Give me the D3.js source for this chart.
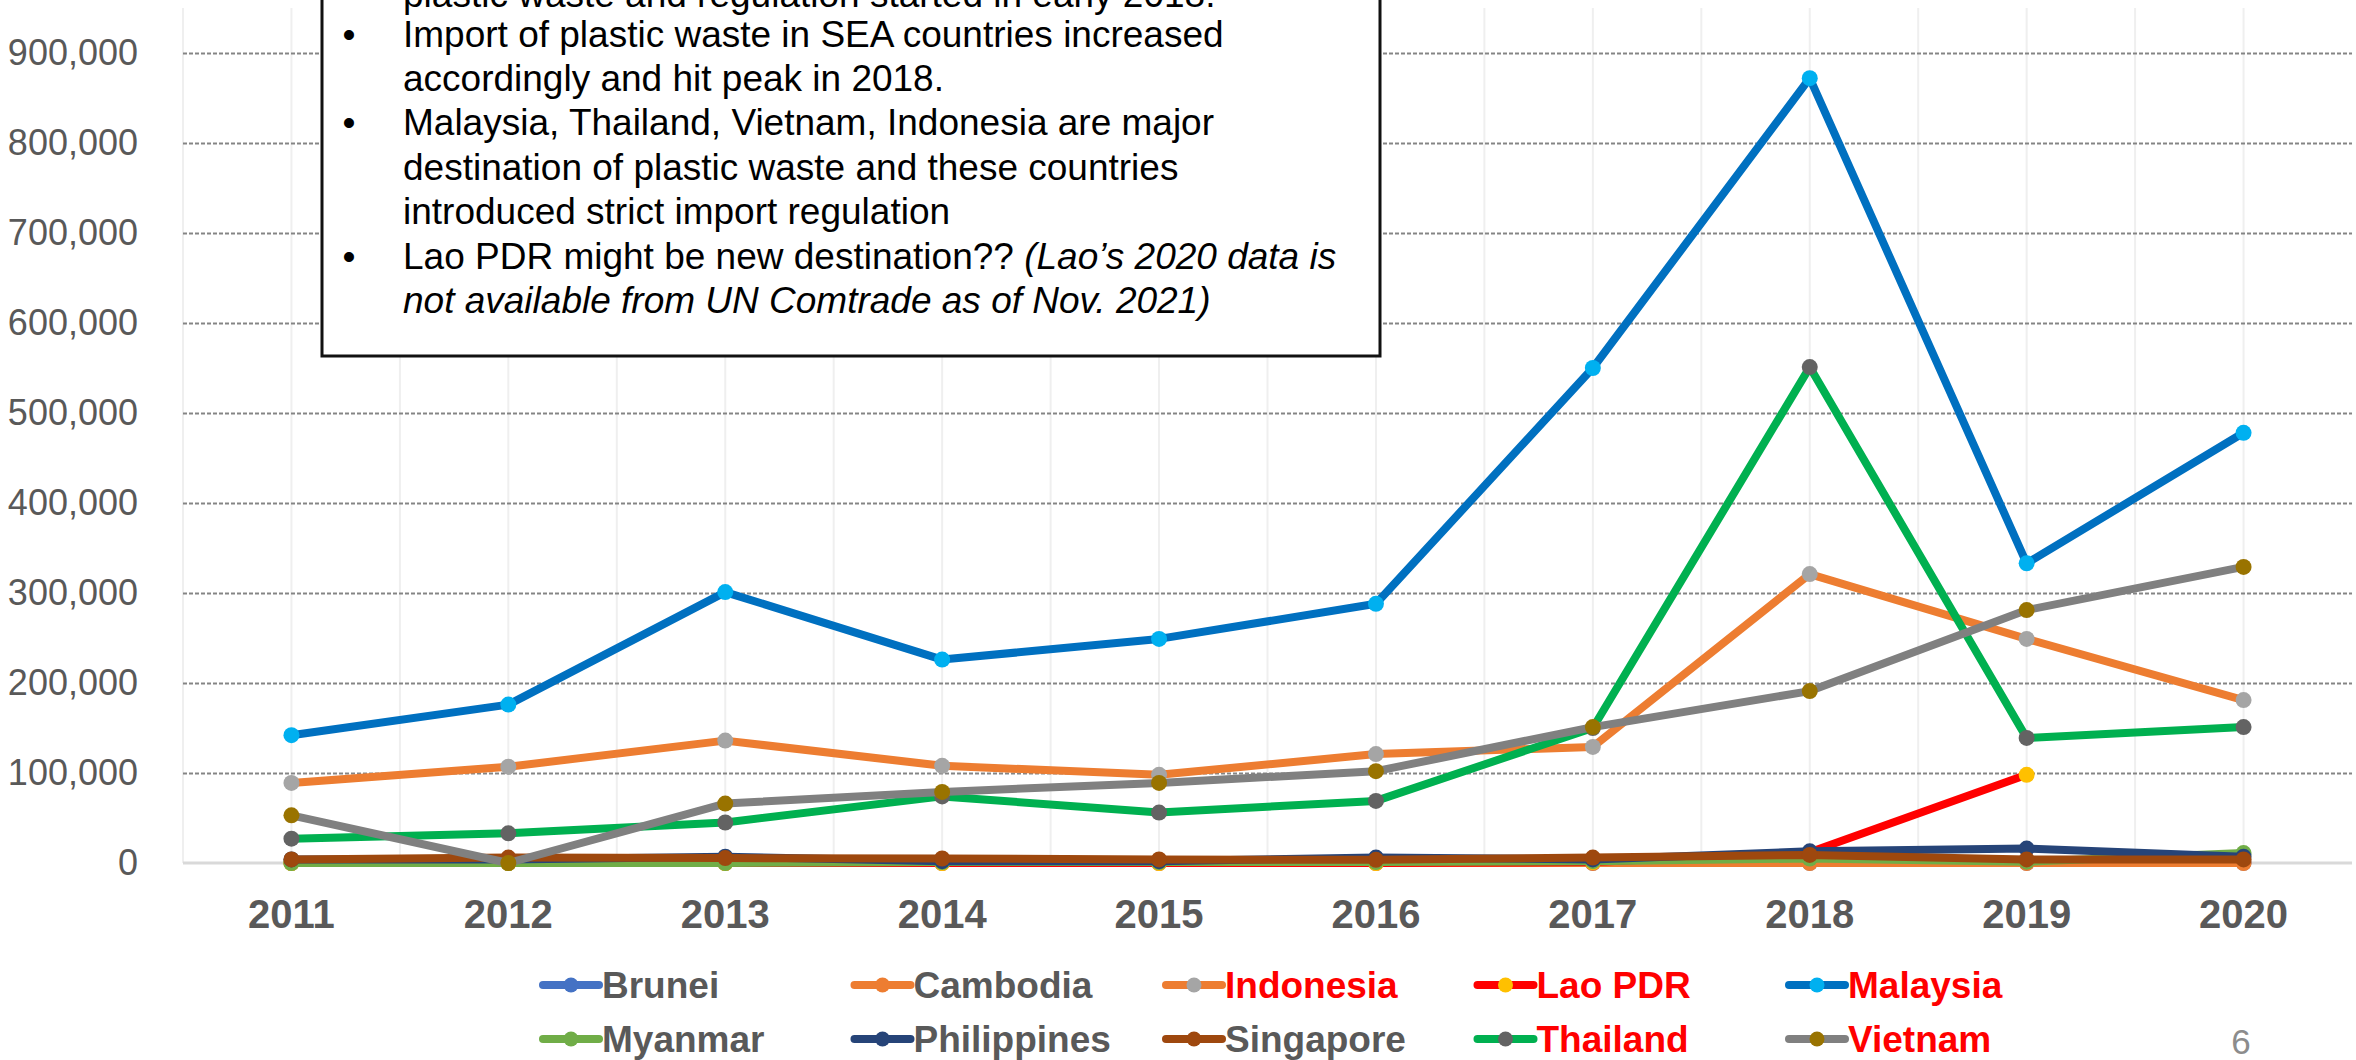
<!DOCTYPE html>
<html lang="en">
<head>
  <meta charset="UTF-8">
  <title>Import of plastic waste in SEA countries</title>
  <script src="https://d3js.org/d3.v7.min.js"></script>
  <style>
    body { margin: 0; background: #fff; overflow: hidden; }
    svg { display: block; font-family: "Liberation Sans", Arial, sans-serif; }
  </style>
</head>
<body>
<svg id="chart" width="2356" height="1060"></svg>

<script>
    // ——— data (tonnes) ———
    const years = ["2011","2012","2013","2014","2015","2016","2017","2018","2019","2020"];
    const yTicks = [0, 100000, 200000, 300000, 400000, 500000, 600000, 700000, 800000, 900000];

    const brunei      = [200, 200, 200, 200, 200, 200, 200, 300, 200, 200];
    const cambodia    = [0, 0, 0, 0, 0, 0, 0, 0, 0, 0];
    const indonesia   = [89000, 107000, 136000, 108000, 98000, 121000, 129000, 321000, 249000, 181000];
    const laoPDR      = [0, 0, 0, 0, 0, 0, 1000, 12000, 98000, null];
    const malaysia    = [142000, 176000, 301000, 226000, 249000, 288000, 550000, 872000, 333000, 478000];
    const myanmar     = [0, 0, 0, 1000, 1000, 1000, 2000, 5000, 1500, 11000];
    const philippines = [4000, 4000, 7000, 2000, 2000, 6000, 4000, 13000, 16000, 7000];
    const singapore   = [4000, 6000, 5500, 5000, 4000, 3500, 6000, 9000, 4000, 4000];
    const thailand    = [27000, 33000, 45000, 74000, 56000, 69000, 150000, 551000, 139000, 151000];
    const vietnam     = [53000, 0, 66000, 79000, 89000, 102000, 151000, 191000, 281000, 329000];

    const countries = ["Brunei","Cambodia","Indonesia","Lao PDR","Malaysia",
                       "Myanmar","Philippines","Singapore","Thailand","Vietnam"];
    const seriesValues = [brunei, cambodia, indonesia, laoPDR, malaysia,
                          myanmar, philippines, singapore, thailand, vietnam];

    // ——— styling ———
    const lineColors   = ["#4472C4","#ED7D31","#ED7D31","#FF0000","#0070C0",
                          "#70AD47","#264478","#9E480E","#00B050","#808080"];
    const markerColors = ["#4472C4","#ED7D31","#A5A5A5","#FFC000","#00B0F0",
                          "#70AD47","#264478","#9E480E","#636363","#997300"];
    const highlighted  = ["Indonesia","Lao PDR","Malaysia","Thailand","Vietnam"];
    const GREY_TEXT = "#595959";
    const FONT = "'Liberation Sans', Arial, sans-serif";

    const noteLines = [
      { text: "plastic waste and regulation started in early 2018.", bullet: false },
      { text: "Import of plastic waste in SEA countries increased", bullet: true },
      { text: "accordingly and hit peak in 2018.", bullet: false },
      { text: "Malaysia, Thailand, Vietnam, Indonesia are major", bullet: true },
      { text: "destination of plastic waste and these countries", bullet: false },
      { text: "introduced strict import regulation", bullet: false },
      { text: "Lao PDR might be new destination?? ", italic: "(Lao’s 2020 data is", bullet: true },
      { text: "", italic: "not available from UN Comtrade as of Nov. 2021)", bullet: false }
    ];

    const svg = d3.select("#chart");
    const plot = { left: 183, right: 2352, top: 8, bottom: 863 };

    const x = d3.scaleBand().domain(years).range([plot.left, plot.right]).padding(0);
    const y = d3.scaleLinear().domain([0, 950000]).range([plot.bottom, plot.top]);
    const cx = d => x(d) + x.bandwidth() / 2;

    // vertical light gridlines (every half category)
    const halfSteps = d3.range(0, years.length * 2 + 1).map(i => plot.left + i * x.bandwidth() / 2);
    svg.append("g")
      .selectAll("line")
      .data(halfSteps.slice(0, -1))
      .join("line")
        .attr("x1", d => d).attr("x2", d => d)
        .attr("y1", plot.top).attr("y2", plot.bottom)
        .attr("stroke", "#efefef")
        .attr("stroke-width", 2);

    // horizontal dashed gridlines
    svg.append("g")
      .attr("transform", `translate(${plot.left},0)`)
      .call(d3.axisLeft(y).tickValues(yTicks.slice(1)).tickSize(-(plot.right - plot.left)).tickFormat(""))
      .call(g => g.select(".domain").remove())
      .call(g => g.selectAll(".tick line")
        .attr("stroke", "#858585")
        .attr("stroke-width", 2)
        .attr("stroke-dasharray", "4,2"));

    // x baseline
    svg.append("line")
      .attr("x1", plot.left).attr("x2", plot.right)
      .attr("y1", y(0)).attr("y2", y(0))
      .attr("stroke", "#d9d9d9")
      .attr("stroke-width", 3);

    // y axis labels
    svg.append("g")
      .attr("transform", `translate(${plot.left},0)`)
      .call(d3.axisLeft(y).tickValues(yTicks).tickSize(0).tickPadding(45).tickFormat(d3.format(",")))
      .call(g => g.select(".domain").remove())
      .call(g => g.selectAll("text")
        .attr("font-family", FONT)
        .attr("font-size", "36px")
        .attr("fill", GREY_TEXT));

    // x axis labels
    svg.append("g")
      .attr("transform", `translate(0,${plot.bottom})`)
      .call(d3.axisBottom(x).tickSize(0).tickPadding(37))
      .call(g => g.select(".domain").remove())
      .call(g => g.selectAll("text")
        .attr("font-family", FONT)
        .attr("font-size", "40px")
        .attr("font-weight", "bold")
        .attr("fill", GREY_TEXT));

    // series
    const line = d3.line()
      .defined(d => d.v !== null)
      .x(d => cx(d.year))
      .y(d => y(d.v));

    const series = countries.map((name, i) => ({
      name,
      line: lineColors[i],
      marker: markerColors[i],
      points: years.map((yr, j) => ({ year: yr, v: seriesValues[i][j] }))
    }));

    const seriesG = svg.append("g");
    series.forEach(s => {
      const g = seriesG.append("g");
      g.append("path")
        .datum(s.points)
        .attr("fill", "none")
        .attr("stroke", s.line)
        .attr("stroke-width", 8)
        .attr("stroke-linejoin", "round")
        .attr("stroke-linecap", "round")
        .attr("d", line);
      g.selectAll("circle")
        .data(s.points.filter(d => d.v !== null))
        .join("circle")
          .attr("cx", d => cx(d.year))
          .attr("cy", d => y(d.v))
          .attr("r", 8)
          .attr("fill", s.marker);
    });

    // note box
    const note = svg.append("g");
    note.append("rect")
      .attr("x", 322).attr("y", -30)
      .attr("width", 1058).attr("height", 386)
      .attr("fill", "#fff")
      .attr("stroke", "#111")
      .attr("stroke-width", 3);

    noteLines.forEach((ln, i) => {
      const baseY = i === 0 ? 7 : 46.5 + (i - 1) * 44.4;
      if (ln.bullet) {
        note.append("text")
          .attr("x", 349).attr("y", baseY)
          .attr("text-anchor", "middle")
          .attr("font-family", FONT)
          .attr("font-size", "37px")
          .text("•");
      }
      const t = note.append("text")
        .attr("x", 403).attr("y", baseY)
        .attr("font-family", FONT)
        .attr("font-size", "37px")
        .attr("fill", "#000")
        .attr("xml:space", "preserve")
        .style("white-space", "pre");
      if (ln.text) t.append("tspan").text(ln.text);
      if (ln.italic) t.append("tspan").attr("font-style", "italic").text(ln.italic);
    });

    // legend
    const legend = svg.append("g");
    series.forEach((s, i) => {
      const col = i % 5, row = Math.floor(i / 5);
      const lx = 543 + col * 311.5, ly = row === 0 ? 985 : 1039;
      const item = legend.append("g").attr("transform", `translate(${lx},${ly})`);
      item.append("line")
        .attr("x1", 0).attr("x2", 56)
        .attr("y1", 0).attr("y2", 0)
        .attr("stroke", s.line)
        .attr("stroke-width", 8)
        .attr("stroke-linecap", "round");
      item.append("circle")
        .attr("cx", 28).attr("cy", 0).attr("r", 7.5)
        .attr("fill", s.marker);
      item.append("text")
        .attr("x", 59).attr("y", 0)
        .attr("dy", "0.35em")
        .attr("font-family", FONT)
        .attr("font-size", "37px")
        .attr("font-weight", "bold")
        .attr("fill", highlighted.includes(s.name) ? "#FF0000" : GREY_TEXT)
        .text(s.name);
    });

    // slide number
    svg.append("text")
      .attr("x", 2241).attr("y", 1054)
      .attr("text-anchor", "middle")
      .attr("font-family", FONT)
      .attr("font-size", "35px")
      .attr("fill", "#8c8c8c")
      .text("6");
</script>
</body>
</html>
